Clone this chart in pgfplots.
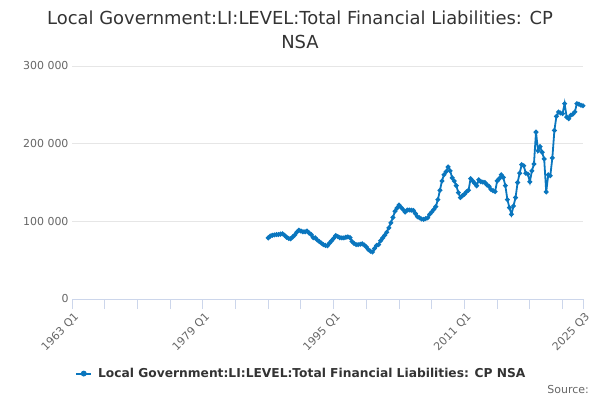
\documentclass[border=0pt]{standalone}
\usepackage{pgfplots}
\pgfplotsset{compat=1.18}
\usepackage{fontspec}
\setmainfont{DejaVu Sans}
\definecolor{series}{HTML}{0A76BE}
\definecolor{txtdark}{HTML}{333333}
\definecolor{txtgray}{HTML}{666666}
\definecolor{gridc}{HTML}{E6E6E6}
\definecolor{axisc}{HTML}{CCD6EB}
\begin{document}
\begin{tikzpicture}[x=1bp,y=1bp]
\path[use as bounding box] (0,0) rectangle (600,400);
\begin{axis}[
  at={(72bp,101bp)}, anchor=south west,
  scale only axis, width=511bp, height=233bp,
  xmin=1963, xmax=2025.5, ymin=0, ymax=300000,
  axis y line*=left, axis x line*=bottom,
  y axis line style={draw=none},
  x axis line style={draw=axisc, line width=1bp},
  xtick={1963,1967,1971,1975,1979,1983,1987,1991,1995,1999,2003,2007,2011,2015,2019,2023,2025.5},
  xticklabels={1963 Q1,,,,1979 Q1,,,,1995 Q1,,,,2011 Q1,,,,2025 Q3},
  x tick style={draw=axisc, line width=1bp},
  major tick length=10bp,
  xtick align=outside,
  x tick label style={rotate=45, anchor=north east, font=\fontsize{11}{13}\selectfont, text=txtgray, inner sep=1bp, yshift=-2bp},
  ytick={0,100000,200000,300000},
  yticklabels={0,100 000,200 000,300 000},
  y tick label style={font=\fontsize{11}{13}\selectfont, text=txtgray},
  y tick style={draw=none},
  ymajorgrids, grid style={draw=gridc, line width=1bp},
  scaled y ticks=false,
  clip=false,
  legend style={at={(0.006,-0.32)}, anchor=west, draw=none, fill=none,
    font=\bfseries\fontsize{12.3}{14}\selectfont, text=txtdark, inner sep=0pt,
    legend cell align=left},
  legend image code/.code={\draw[#1, line width=2bp] (0bp,0bp) -- (15bp,0bp); \fill[series] (7.5bp,0bp) circle (2bp); \path (19bp,0bp);},
]
\addplot[color=series, line width=1.8bp, mark=*, mark size=1.4bp, mark options={fill=series, draw=series}] table[row sep=\\] {
x y\\
1987.00 78700\\
1987.25 81000\\
1987.50 82000\\
1987.75 82500\\
1988.00 83000\\
1988.25 83000\\
1988.50 83500\\
1988.75 84000\\
1989.00 82000\\
1989.25 79500\\
1989.50 78000\\
1989.75 77500\\
1990.00 80000\\
1990.25 82500\\
1990.50 86000\\
1990.75 88500\\
1991.00 87500\\
1991.25 86500\\
1991.50 86500\\
1991.75 87500\\
1992.00 85000\\
1992.25 83000\\
1992.50 79000\\
1992.75 78700\\
1993.00 76000\\
1993.25 74000\\
1993.50 72000\\
1993.75 70000\\
1994.00 69000\\
1994.25 68700\\
1994.50 72000\\
1994.75 75000\\
1995.00 78000\\
1995.25 81700\\
1995.50 80500\\
1995.75 79000\\
1996.00 78700\\
1996.25 78700\\
1996.50 79500\\
1996.75 80000\\
1997.00 79000\\
1997.25 74000\\
1997.50 71500\\
1997.75 70000\\
1998.00 70000\\
1998.25 70500\\
1998.50 71000\\
1998.75 69500\\
1999.00 67000\\
1999.25 63500\\
1999.50 61500\\
1999.75 60500\\
2000.00 65000\\
2000.25 69000\\
2000.50 70000\\
2000.75 75000\\
2001.00 78700\\
2001.25 82000\\
2001.50 86000\\
2001.75 91600\\
2002.00 98000\\
2002.25 105000\\
2002.50 113000\\
2002.75 117000\\
2003.00 121000\\
2003.25 118000\\
2003.50 115000\\
2003.75 112000\\
2004.00 114600\\
2004.25 114600\\
2004.50 114300\\
2004.75 114000\\
2005.00 110000\\
2005.25 106000\\
2005.50 104600\\
2005.75 103000\\
2006.00 102500\\
2006.25 103500\\
2006.50 104600\\
2006.75 109000\\
2007.00 112000\\
2007.25 115400\\
2007.50 119000\\
2007.75 128000\\
2008.00 140000\\
2008.25 152000\\
2008.50 160000\\
2008.75 164000\\
2009.00 170000\\
2009.25 165000\\
2009.50 156000\\
2009.75 152000\\
2010.00 146000\\
2010.25 137000\\
2010.50 130600\\
2010.75 133000\\
2011.00 135000\\
2011.25 138000\\
2011.50 140000\\
2011.75 155000\\
2012.00 152000\\
2012.25 149000\\
2012.50 145700\\
2012.75 153500\\
2013.00 151000\\
2013.25 150500\\
2013.50 150000\\
2013.75 147000\\
2014.00 145000\\
2014.25 141000\\
2014.50 139500\\
2014.75 138300\\
2015.00 152000\\
2015.25 155000\\
2015.50 160000\\
2015.75 156500\\
2016.00 146000\\
2016.25 128000\\
2016.50 117600\\
2016.75 109000\\
2017.00 119800\\
2017.25 130600\\
2017.50 150000\\
2017.75 162000\\
2018.00 173000\\
2018.25 171600\\
2018.50 162000\\
2018.75 160800\\
2019.00 150900\\
2019.25 165000\\
2019.50 173800\\
2019.75 214900\\
2020.00 191000\\
2020.25 196300\\
2020.50 188900\\
2020.75 180300\\
2021.00 137900\\
2021.25 160000\\
2021.50 158700\\
2021.75 181600\\
2022.00 217000\\
2022.25 235200\\
2022.50 240800\\
2022.75 239500\\
2023.00 238700\\
2023.25 251600\\
2023.50 234300\\
2023.75 232200\\
2024.00 236500\\
2024.25 238000\\
2024.50 240800\\
2024.75 251600\\
2025.00 250800\\
2025.25 249500\\
2025.50 248800\\
};
\addlegendentry{Local Government:LI:LEVEL:Total Financial Liabilities: CP NSA}
\end{axis}
\node[font=\fontsize{18}{24}\selectfont, text=txtdark, align=center, anchor=north] at (300,393) {Local Government:LI:LEVEL:Total Financial Liabilities: CP\\NSA};
\node[font=\fontsize{11}{13}\selectfont, text=txtgray, anchor=east, inner sep=0pt] at (589,10) {Source:};
\end{tikzpicture}
\end{document}
